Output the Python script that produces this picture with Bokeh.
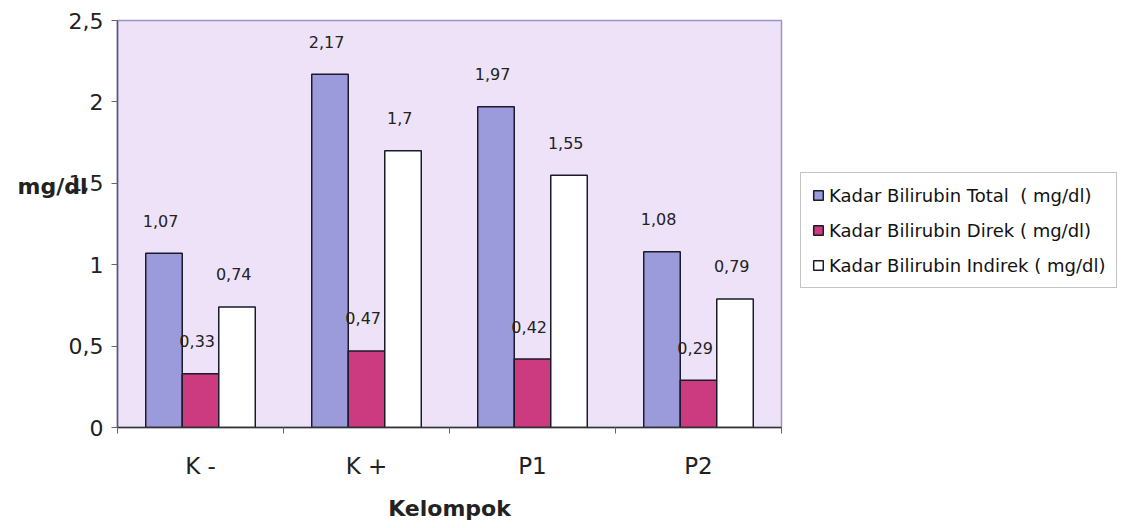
from bokeh.plotting import figure
from bokeh.models import ColumnDataSource, FixedTicker, Legend, LegendItem, Label, Range1d
from bokeh.embed import file_html
from bokeh.resources import INLINE

groups = ["K -", "K +", "P1", "P2"]
total = [1.07, 2.17, 1.97, 1.08]
direk = [0.33, 0.47, 0.42, 0.29]
indirek = [0.74, 1.70, 1.55, 0.79]
series_names = ["Kadar Bilirubin Total  ( mg/dl)", "Kadar Bilirubin Direk ( mg/dl)", "Kadar Bilirubin Indirek ( mg/dl)"]
y_ticks = [0, 0.5, 1, 1.5, 2, 2.5]
y_tick_labels = ["0", "0,5", "1", "1,5", "2", "2,5"]

FONT = "DejaVu Sans"
colors = ["#9b9bdc", "#cc3a80", "#ffffff"]
bw = 0.22
offsets = [-0.22, 0.0, 0.22]

p = figure(frame_width=664, frame_height=407, output_backend="svg", toolbar_location=None,
           x_range=Range1d(0, 4), y_range=Range1d(0, 2.5),
           min_border_left=117, min_border_right=0, min_border_top=20, min_border_bottom=101)
p.background_fill_color = "#ede2f8"
p.border_fill_color = "white"
p.outline_line_color = "#9c94c4"
p.outline_line_width = 1.5
p.grid.visible = False

renderers = []
for vals, col, off in zip([total, direk, indirek], colors, offsets):
    xs = [i + 0.5 + off for i in range(len(groups))]
    src = ColumnDataSource(dict(x=xs, top=vals))
    r = p.vbar(x="x", top="top", width=bw, source=src, fill_color=col,
               line_color="#1a1a2a", line_width=1.5)
    renderers.append(r)
    for xv, v in zip(xs, vals):
        p.add_layout(Label(x=xv - 0.02, y=v + 0.2, text=f"{v:g}".replace(".", ","),
                           text_align="center", text_baseline="middle",
                           text_font=FONT, text_font_size="16px", text_color="#222222"))

# x axis
p.xaxis.ticker = FixedTicker(ticks=[i + 0.5 for i in range(len(groups))], minor_ticks=[0, 1, 2, 3, 4])
p.xaxis.major_label_overrides = {i + 0.5: g for i, g in enumerate(groups)}
p.xaxis.major_tick_out = 0
p.xaxis.major_tick_in = 0
p.xaxis.minor_tick_out = 6
p.xaxis.minor_tick_in = 0
p.xaxis.major_label_text_font = FONT
p.xaxis.major_label_text_font_size = "23px"
p.xaxis.major_label_text_color = "#222222"
p.xaxis.major_label_standoff = 19
p.xaxis.axis_label = "Kelompok"
p.xaxis.axis_label_text_font = FONT
p.xaxis.axis_label_text_font_size = "22px"
p.xaxis.axis_label_text_font_style = "bold"
p.xaxis.axis_label_text_color = "#222222"
p.xaxis.axis_label_standoff = 14
p.xaxis.axis_line_color = "#333333"
p.xaxis.axis_line_width = 1.5
p.xaxis.minor_tick_line_color = "#666666"

# y axis
p.yaxis.ticker = FixedTicker(ticks=y_ticks, minor_ticks=[])
p.yaxis.major_label_overrides = {t: l for t, l in zip(y_ticks, y_tick_labels)}
p.yaxis.major_tick_out = 6
p.yaxis.major_tick_in = 0
p.yaxis.minor_tick_out = 0
p.yaxis.minor_tick_in = 0
p.yaxis.major_label_text_font = FONT
p.yaxis.major_label_text_font_size = "22px"
p.yaxis.major_label_text_color = "#222222"
p.yaxis.major_label_standoff = 8
p.yaxis.axis_line_color = "#555577"
p.yaxis.axis_line_width = 1.5
p.yaxis.major_tick_line_color = "#666666"
p.yaxis.axis_label = "mg/dl\n \n \n "
p.yaxis.axis_label_orientation = "horizontal"
p.yaxis.axis_label_text_font = FONT
p.yaxis.axis_label_text_font_size = "22px"
p.yaxis.axis_label_text_line_height = 1.0
p.yaxis.axis_label_text_font_style = "bold"
p.yaxis.axis_label_text_color = "#222222"
p.yaxis.axis_label_standoff = -22

legend = Legend(items=[LegendItem(label=n, renderers=[r]) for n, r in zip(series_names, renderers)],
                location=(19, 139))
legend.label_text_font = FONT
legend.label_text_font_size = "18px"
legend.label_text_color = "#111111"
legend.label_height = 22
legend.glyph_width = 12
legend.glyph_height = 12
legend.label_standoff = 5
legend.spacing = 13
legend.padding = 11
legend.margin = 0
legend.border_line_color = "#888888"
legend.border_line_width = 1
legend.background_fill_color = "white"
legend.background_fill_alpha = 1
p.add_layout(legend, "right")

open("out.html", "w").write(file_html(p, INLINE))
